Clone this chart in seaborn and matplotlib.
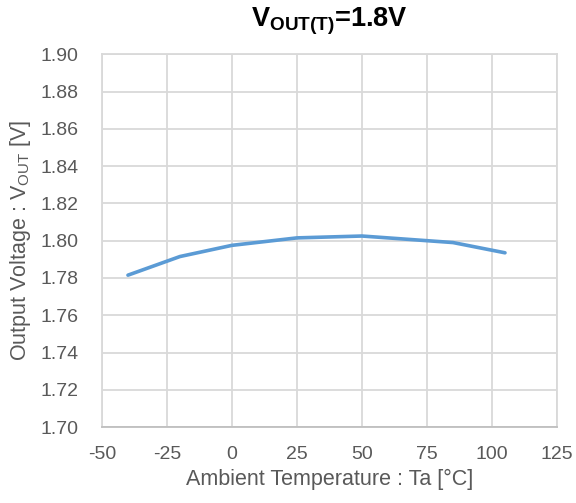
import numpy as np
import pandas as pd
import seaborn as sns
import matplotlib.pyplot as plt

# values
temperature = [-40, -20, 0, 25, 50, 85, 105]
vout = [1.7815, 1.7915, 1.7975, 1.8015, 1.8025, 1.7990, 1.7935]
x_ticks = [-50, -25, 0, 25, 50, 75, 100, 125]
y_ticks = [1.70, 1.72, 1.74, 1.76, 1.78, 1.80, 1.82, 1.84, 1.86, 1.88, 1.90]

df = pd.DataFrame({"Ta": temperature, "Vout": vout})

sns.set_theme(style="whitegrid")
plt.rcParams['font.family'] = ['Liberation Sans', 'DejaVu Sans']
plt.rcParams['mathtext.fontset'] = 'custom'
plt.rcParams['mathtext.rm'] = 'Liberation Sans'
plt.rcParams['mathtext.bf'] = 'Liberation Sans:bold'

text_color = '#595959'
grid_color = '#D9D9D9'

fig = plt.figure(figsize=(5.76, 5.03), dpi=100)
ax = fig.add_axes([0.177, 0.151, 0.790, 0.741])

sns.lineplot(data=df, x="Ta", y="Vout", ax=ax, color='#5B9BD5', linewidth=2.6)

ax.set_xlim(-50, 125)
ax.set_ylim(1.70, 1.90)
ax.set_xticks(x_ticks)
ax.set_yticks(y_ticks)
ax.set_xticklabels([str(t) for t in x_ticks])
ax.set_yticklabels([f"{v:.2f}" for v in y_ticks])
ax.tick_params(labelsize=14, colors=text_color, length=0)
ax.tick_params(axis='y', pad=17)
ax.tick_params(axis='x', pad=14)
ax.grid(True, color=grid_color, linewidth=1.3)

for side in ['top', 'right', 'left']:
    ax.spines[side].set_color(grid_color)
    ax.spines[side].set_linewidth(1.3)
ax.spines['bottom'].set_color('#BFBFBF')
ax.spines['bottom'].set_linewidth(1.3)

ax.set_xlabel('Ambient Temperature : Ta [\u00b0C]', fontsize=15.5, color=text_color, labelpad=4)
ax.set_ylabel(r'Output Voltage : V$_{\rm OUT}$ [V]', fontsize=15.5, color=text_color, labelpad=5)
fig.text(0.572, 0.948, r'$\mathbf{V_{OUT(T)}}$=1.8V', fontsize=19.5, fontweight='bold',
         color='black', ha='center', va='baseline')

fig.savefig('out.png', dpi=100, facecolor='white')
